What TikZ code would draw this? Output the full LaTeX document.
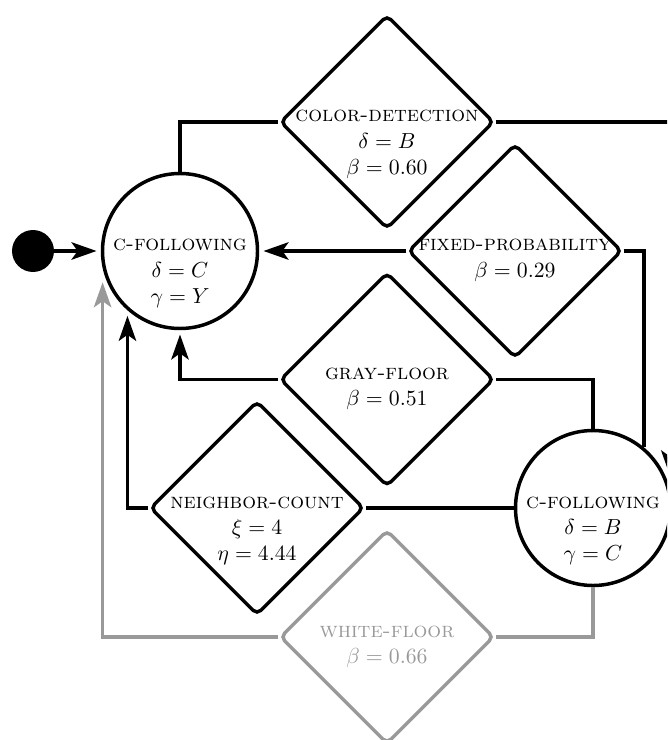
\documentclass[tikz,border=0pt]{standalone}
\usetikzlibrary{shapes.geometric,arrows.meta}
\newcommand{\stack}[1]{\begin{tabular}[t]{@{}c@{}}#1\end{tabular}}
\tikzset{
  conn/.style={line width=1.6pt},
  arr/.style={line width=1.6pt,-{Stealth[length=11.5pt,width=8pt,inset=2.8pt]}},
  faded/.style={draw=black!40,text=black!40},
  state/.style={circle,draw,line width=1.6pt,minimum size=71.3pt,inner sep=0pt,
    text height=0pt,text depth=0pt},
  ring/.style={circle,minimum size=76.8pt,inner sep=0pt,outer sep=0pt},
  cond/.style={diamond,draw,line width=1.6pt,minimum width=98.4pt,minimum height=98.4pt,
    inner sep=0pt,aspect=1,text height=0pt,text depth=0pt,rounded corners=2.5pt},
  startdot/.style={circle,fill=black,minimum size=19.3pt,inner sep=0pt},
}
\begin{document}
\begin{tikzpicture}[x=0.46pt,y=-0.46pt]
\useasboundingbox (0,0) rectangle (667,740);
\clip (0,0) rectangle (667,740);
% nodes
\node[startdot] (start) at (33,251) {};
\node[state] (C1) at (180,251) {\stack{\textsc{c-following}\\$\delta=C$\\$\gamma=Y$}};
\node[ring] (C1r) at (C1) {};
\node[state] (C2) at (593,508) {\stack{\textsc{c-following}\\$\delta=B$\\$\gamma=C$}};
\node[ring] (C2r) at (C2) {};
\node[cond] (CD) at (387,122) {\stack{\textsc{color-detection}\\$\delta=B$\\$\beta=0.60$}};
\node[cond] (FP) at (515,251) {\stack{\textsc{fixed-probability}\\$\beta=0.29$}};
\node[cond] (GF) at (387,379.5) {\stack{\textsc{gray-floor}\\$\beta=0.51$}};
\node[cond] (NC) at (257,508) {\stack{\textsc{neighbor-count}\\$\xi=4$\\$\eta=4.44$}};
\node[cond,faded] (WF) at (387,637) {\stack{\textsc{white-floor}\\$\beta=0.66$}};
% connectors
\draw[arr] (start) -- (C1r.west);
\draw[conn] (C1.north) |- (CD.west);
\draw[arr] (CD.east) -| (C2r.23);
\draw[conn] (FP.east) -| (C2.50);
\draw[arr] (FP.west) -- (C1r.east);
\draw[conn] (C2.north) |- (GF.east);
\draw[arr] (GF.west) -| (C1r.south);
\draw[conn] (C2.west) -- (NC.east);
\draw[arr] (NC.west) -| (C1r.231.5);
\draw[conn,black!40] (C2.south) |- (WF.east);
\draw[arr,black!40] (WF.west) -| (C1r.202.8);
\end{tikzpicture}
\end{document}
